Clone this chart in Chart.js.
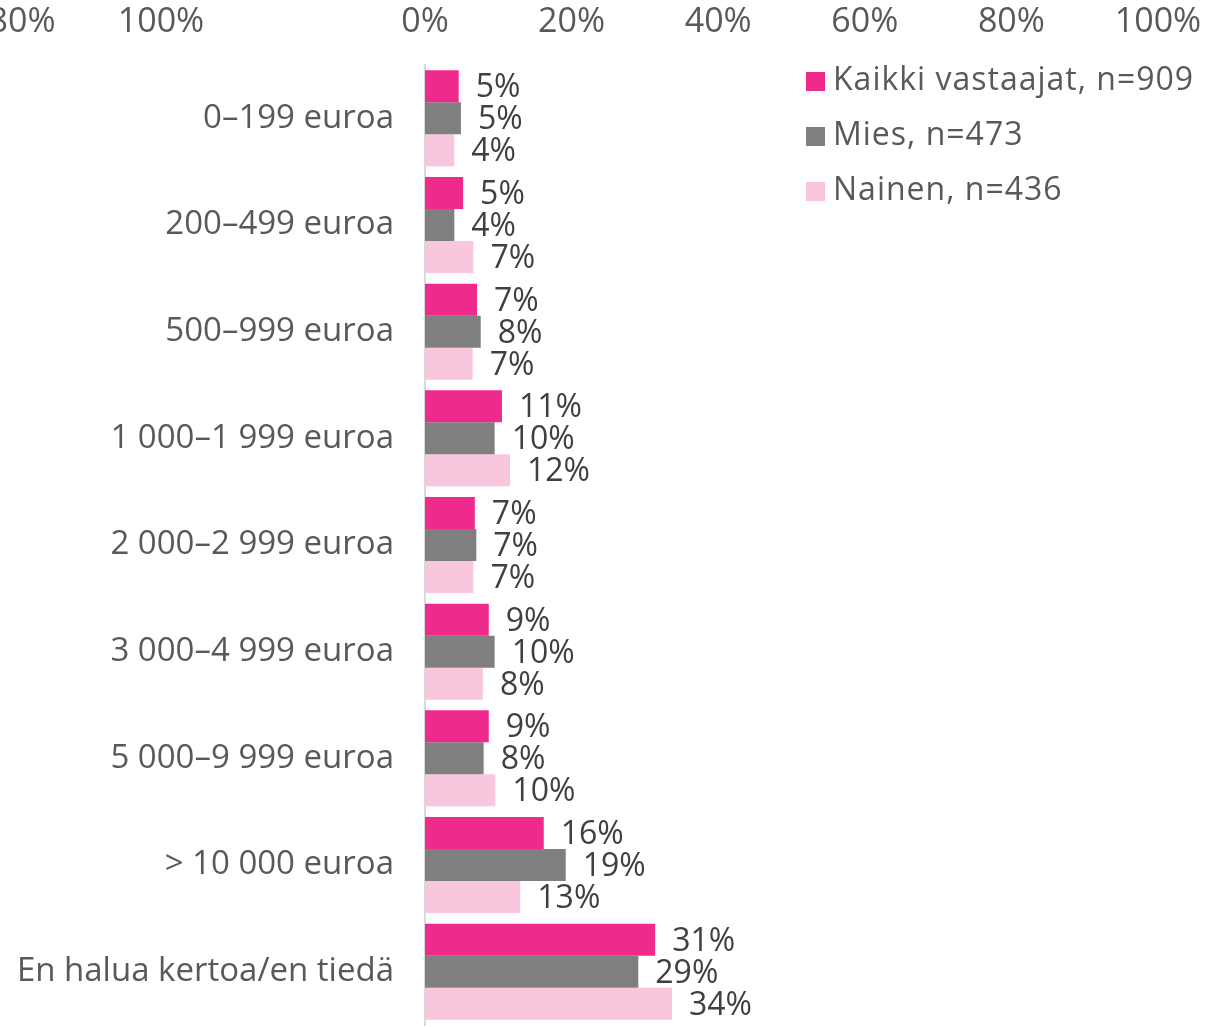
<!DOCTYPE html>
<html>
<head>
<meta charset="utf-8">
<script src="https://cdn.jsdelivr.net/npm/chart.js@4"></script>
<style>
html,body{margin:0;padding:0;background:#fff;}
#wrap{width:1232px;height:1027px;position:relative;}
</style>
</head>
<body>
<div id="wrap"><canvas id="c" width="1232" height="1027"></canvas></div>
<script>
const categories = ['0–199 euroa','200–499 euroa','500–999 euroa','1 000–1 999 euroa','2 000–2 999 euroa','3 000–4 999 euroa','5 000–9 999 euroa','> 10 000 euroa','En halua kertoa/en tiedä'];
const seriesNames = ['Kaikki vastaajat, n=909','Mies, n=473','Nainen, n=436'];
const kaikki = [4.6, 5.2, 7.1, 10.5, 6.8, 8.7, 8.7, 16.2, 31.4];
const mies   = [4.9, 4.0, 7.6, 9.5, 7.0, 9.5, 8.0, 19.2, 29.1];
const nainen = [4.0, 6.6, 6.5, 11.6, 6.6, 7.9, 9.6, 13.0, 33.7];
const xTickValues = [0, 20, 40, 60, 80, 100];
const strayTickLabels = ['80%', '100%'];
const colors = ['#EE2A8C', '#7F7F7F', '#F8C7DD'];

const FONT = "'Open Sans'";
const TXT = '#595959';

const labelPlugin = {
  id: 'barLabels',
  afterDatasetsDraw(chart) {
    const ctx = chart.ctx;
    ctx.save();
    ctx.font = '32px ' + FONT;
    ctx.fillStyle = '#404040';
    ctx.textAlign = 'left';
    ctx.textBaseline = 'middle';
    chart.data.datasets.forEach((ds, di) => {
      chart.getDatasetMeta(di).data.forEach((bar, i) => {
        ctx.fillText(Math.round(ds.data[i]) + '%', bar.x + 17, bar.y + 2);
      });
    });
    ctx.restore();
  }
};

const legendPlugin = {
  id: 'customLegend',
  afterDraw(chart) {
    const ctx = chart.ctx;
    ctx.save();
    ctx.font = '32px ' + FONT;
    ctx.textBaseline = 'middle';
    ctx.textAlign = 'left';
    try { ctx.letterSpacing = '1px'; } catch (e) {}
    chart.data.datasets.forEach((ds, i) => {
      const y = 81 + i * 55;
      ctx.fillStyle = ds.backgroundColor;
      ctx.fillRect(806, y - 9, 19, 19);
      ctx.fillStyle = TXT;
      ctx.fillText(ds.label, 833, y);
    });
    try { ctx.letterSpacing = '0px'; } catch (e) {}
    // stray tick labels from a neighbouring chart, cut at the left edge
    ctx.font = '34px ' + FONT;
    ctx.textAlign = 'center';
    ctx.fillText(strayTickLabels[0], 22, 22);
    ctx.fillText(strayTickLabels[1], 161, 22);
    ctx.restore();
  }
};

Chart.defaults.font.family = FONT;
Chart.defaults.color = TXT;

new Chart(document.getElementById('c'), {
  type: 'bar',
  data: {
    labels: categories,
    datasets: [
      { label: seriesNames[0], data: kaikki, backgroundColor: colors[0] },
      { label: seriesNames[1], data: mies, backgroundColor: colors[1] },
      { label: seriesNames[2], data: nainen, backgroundColor: colors[2] }
    ]
  },
  options: {
    indexAxis: 'y',
    responsive: false,
    animation: false,
    devicePixelRatio: 1,
    datasets: { bar: { categoryPercentage: 0.9, barPercentage: 1.0 } },
    layout: { padding: { left: 0, right: 74, top: 0, bottom: 2 } },
    plugins: { legend: { display: false }, tooltip: { enabled: false } },
    scales: {
      x: {
        position: 'top',
        min: 0, max: 100,
        afterFit: s => { s.height = 65; s.paddingLeft = 0; s.paddingRight = 0; },
        afterBuildTicks: s => { s.ticks = xTickValues.map(v => ({ value: v })); },
        grid: { display: false, drawTicks: false },
        border: { display: false },
        ticks: { font: { size: 34 }, color: TXT, padding: 22, maxRotation: 0, callback: v => v + '%' }
      },
      y: {
        afterFit: s => { s.width = 425; s.paddingTop = 0; s.paddingBottom = 0; },
        grid: { display: false, drawTicks: false },
        border: { display: true, color: '#D9D9D9', width: 2 },
        ticks: { font: { size: 33 }, color: TXT, padding: 31 }
      }
    }
  },
  plugins: [labelPlugin, legendPlugin]
});
</script>
</body>
</html>
